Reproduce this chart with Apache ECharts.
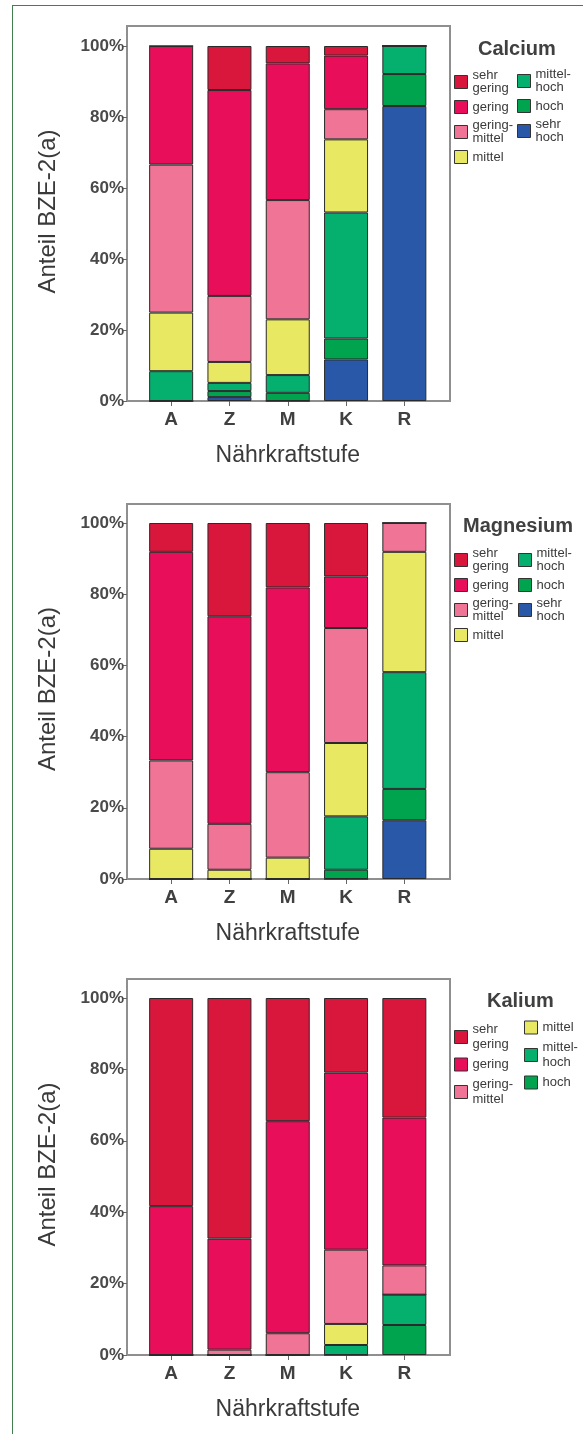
<!DOCTYPE html>
<html>
<head>
<meta charset="utf-8">
<script src="https://cdn.jsdelivr.net/npm/echarts@6/dist/echarts.min.js"></script>
<style>
html,body{margin:0;padding:0;background:#fff;}
#wrap{position:relative;width:583px;height:1434px;overflow:hidden;background:#fff;}
#chart{position:absolute;left:0;top:0;width:583px;height:1434px;z-index:1;}
#border{position:absolute;left:12px;top:5px;width:580px;height:1440px;border-top:1.5px solid #3f7f50;border-left:1.5px solid #3f7f50;z-index:2;pointer-events:none;}
</style>
</head>
<body>
<div id="wrap"><div id="chart"></div><div id="border"></div></div>
<script>
// ---- data (percent of plots per Nährkraftstufe) ----
const categories = ['A', 'Z', 'M', 'K', 'R'];
const levels = ['sehr gering', 'gering', 'gering-mittel', 'mittel', 'mittel-hoch', 'hoch', 'sehr hoch'];
const yTicks = [0, 20, 40, 60, 80, 100];

// Calcium
const caSehrGering   = [0, 12.4, 4.9, 2.7, 0];
const caGering       = [33.4, 58.0, 38.5, 15.1, 0];
const caGeringMittel = [41.7, 18.6, 33.6, 8.5, 0];
const caMittel       = [16.5, 5.9, 15.7, 20.6, 0];
const caMittelHoch   = [8.4, 2.3, 5.0, 35.5, 7.9];
const caHoch         = [0, 1.7, 2.3, 5.9, 9.0];
const caSehrHoch     = [0, 1.1, 0, 11.7, 83.1];

// Magnesium
const mgSehrGering   = [8.1, 26.2, 18.1, 15.0, 0];
const mgGering       = [58.6, 58.3, 51.9, 14.5, 0];
const mgGeringMittel = [24.8, 12.9, 24.0, 32.3, 8.1];
const mgMittel       = [8.5, 2.6, 6.0, 20.6, 33.8];
const mgMittelHoch   = [0, 0, 0, 15.0, 32.8];
const mgHoch         = [0, 0, 0, 2.6, 8.8];
const mgSehrHoch     = [0, 0, 0, 0, 16.5];

// Kalium
const kSehrGering   = [58.3, 67.4, 34.5, 20.9, 33.5];
const kGering       = [41.7, 31.1, 59.4, 49.6, 41.4];
const kGeringMittel = [0, 1.5, 6.1, 20.8, 8.2];
const kMittel       = [0, 0, 0, 5.9, 0];
const kMittelHoch   = [0, 0, 0, 2.8, 8.5];
const kHoch         = [0, 0, 0, 0, 8.4];

// ---- styles ----
const levelColors = {
  'sehr gering': '#d9163c',
  'gering': '#e90e5a',
  'gering-mittel': '#f07496',
  'mittel': '#e9e862',
  'mittel-hoch': '#05b06f',
  'hoch': '#00a44f',
  'sehr hoch': '#2a58a8'
};

const charts = [
  { title: 'Calcium', titleLeft: 473,
    values: {'sehr gering': caSehrGering, 'gering': caGering, 'gering-mittel': caGeringMittel, 'mittel': caMittel, 'mittel-hoch': caMittelHoch, 'hoch': caHoch, 'sehr hoch': caSehrHoch},
    col1: ['sehr gering', 'gering', 'gering-mittel', 'mittel'], col2: ['mittel-hoch', 'hoch', 'sehr hoch'],
    gridTop: 46, gridH: 355, frameTop: 26, col1Top: 64, col2Top: 63, col2Left: 512, lh: 13, gap: 5 },
  { title: 'Magnesium', titleLeft: 458,
    values: {'sehr gering': mgSehrGering, 'gering': mgGering, 'gering-mittel': mgGeringMittel, 'mittel': mgMittel, 'mittel-hoch': mgMittelHoch, 'hoch': mgHoch, 'sehr hoch': mgSehrHoch},
    col1: ['sehr gering', 'gering', 'gering-mittel', 'mittel'], col2: ['mittel-hoch', 'hoch', 'sehr hoch'],
    gridTop: 523, gridH: 356, frameTop: 504, col1Top: 542, col2Top: 542, col2Left: 513, lh: 13, gap: 5 },
  { title: 'Kalium', titleLeft: 482,
    values: {'sehr gering': kSehrGering, 'gering': kGering, 'gering-mittel': kGeringMittel, 'mittel': kMittel, 'mittel-hoch': kMittelHoch, 'hoch': kHoch},
    col1: ['sehr gering', 'gering', 'gering-mittel'], col2: ['mittel', 'mittel-hoch', 'hoch'],
    gridTop: 998, gridH: 357, frameTop: 979, col1Top: 1017, col2Top: 1015, col2Left: 519, lh: 15, gap: 5 }
];

const FONT = '"Liberation Sans", Arial, sans-serif';
const legendFmt = n => n.replace(' ', '\n').replace('-', '-\n');

const option = {
  backgroundColor: 'transparent',
  animation: false,
  title: [], grid: [], xAxis: [], yAxis: [], legend: [], series: [],
  graphic: { elements: [] }
};

charts.forEach((c, i) => {
  const frameBottom = c.gridTop + c.gridH;
  option.graphic.elements.push({
    type: 'rect', z: 0, silent: true,
    shape: { x: 127, y: c.frameTop, width: 323, height: frameBottom - c.frameTop },
    style: { fill: 'none', stroke: '#8f8f8f', lineWidth: 2 }
  });
  option.title.push({
    text: c.title, left: c.titleLeft, top: c.gridTop - 12,
    textStyle: { fontFamily: FONT, fontSize: 20, fontWeight: 'bold', color: '#404040' }
  });
  option.grid.push({ left: 142, width: 291.5, top: c.gridTop, height: c.gridH, containLabel: false });
  option.xAxis.push({
    type: 'category', gridIndex: i, data: categories,
    axisLine: { show: false },
    axisTick: { show: true, alignWithLabel: true, length: 5, lineStyle: { color: '#666' } },
    axisLabel: { fontFamily: FONT, fontSize: 19, fontWeight: 'bold', color: '#404040', margin: 9 },
    name: 'Nährkraftstufe', nameLocation: 'middle', nameGap: 43,
    nameTextStyle: { fontFamily: FONT, fontSize: 23, color: '#3a3a3a' }
  });
  option.yAxis.push({
    type: 'value', gridIndex: i, min: 0, max: 100, interval: 20, offset: 15,
    axisLine: { show: true, lineStyle: { color: '#8f8f8f', width: 2 } },
    axisTick: { show: true, length: 5, lineStyle: { color: '#666' } },
    splitLine: { show: false },
    axisLabel: { fontFamily: FONT, fontSize: 17, fontWeight: 'bold', color: '#4a4a4a', margin: 3, formatter: '{value}%' },
    name: 'Anteil BZE-2(a)', nameLocation: 'middle', nameGap: 67,
    nameTextStyle: { fontFamily: FONT, fontSize: 24, color: '#3a3a3a', padding: [0, 0, 0, 24] }
  });
  const legendBase = {
    orient: 'vertical', icon: 'rect', itemWidth: 13, itemHeight: 13, itemGap: c.gap,
    formatter: legendFmt,
    itemStyle: { borderColor: '#333', borderWidth: 1 },
    textStyle: { fontFamily: FONT, fontSize: 13, lineHeight: c.lh, color: '#3a3a3a' }
  };
  option.legend.push(Object.assign({}, legendBase, { left: 449, top: c.col1Top, data: c.col1 }));
  option.legend.push(Object.assign({}, legendBase, { left: c.col2Left, top: c.col2Top, data: c.col2 }));

  levels.slice().reverse().forEach(lv => {
    const vals = c.values[lv];
    if (!vals) return;
    option.series.push({
      type: 'bar', name: lv, stack: 'stack' + i,
      xAxisIndex: i, yAxisIndex: i, data: vals, barWidth: 44,
      itemStyle: { color: levelColors[lv], borderColor: '#2a2a2a', borderWidth: 1 }
    });
  });
});

const chart = echarts.init(document.getElementById('chart'), null, { renderer: 'canvas' });
chart.setOption(option);
</script>
</body>
</html>
